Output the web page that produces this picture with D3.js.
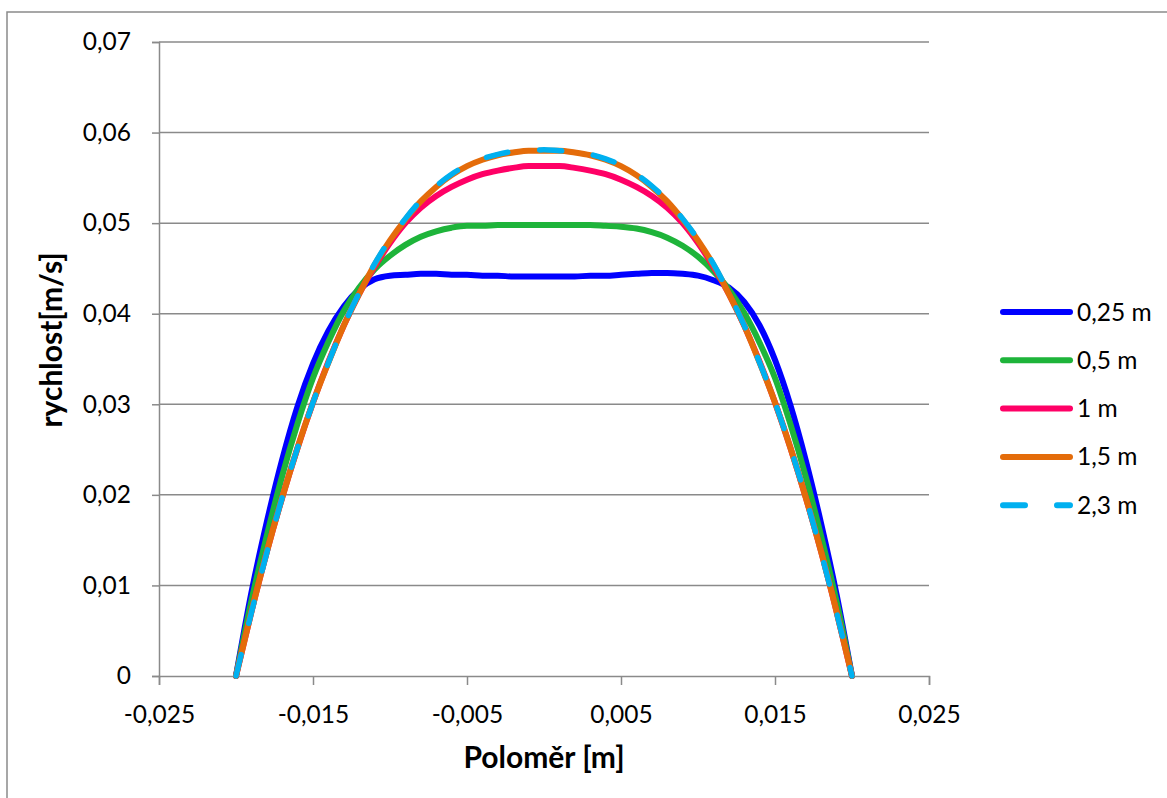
<!DOCTYPE html>
<html>
<head>
<meta charset="utf-8">
<script src="https://cdn.jsdelivr.net/npm/d3@7"></script>
<style>
	body { margin: 0; background: #fff; }
	svg { display: block; }
</style>
</head>
<body>
<div id="chart"></div>
<script>
// radius [m]
var radius = [-0.020, -0.019, -0.018, -0.017, -0.016, -0.015, -0.014, -0.013, -0.012, -0.011,
	-0.010, -0.009, -0.008, -0.007, -0.006, -0.005, -0.004, -0.003, -0.002, -0.001,
	0.000, 0.001, 0.002, 0.003, 0.004, 0.005, 0.006, 0.007, 0.008, 0.009,
	0.010, 0.011, 0.012, 0.013, 0.014, 0.015, 0.016, 0.017, 0.018, 0.019, 0.020];

// velocity [m/s] per distance from inlet
var v025 = [0, 0.0092, 0.0170, 0.0239, 0.0298, 0.0345, 0.0381, 0.0408, 0.0427, 0.0438,
	0.0442, 0.0443, 0.0444, 0.0444, 0.0443, 0.0443, 0.0442, 0.0442, 0.0441, 0.0441,
	0.0441, 0.0441, 0.0441, 0.0442, 0.0442, 0.0443, 0.0444, 0.0445, 0.0445, 0.0444,
	0.0442, 0.0437, 0.0429, 0.0413, 0.0387, 0.0349, 0.0299, 0.0238, 0.0168, 0.0090, 0];
var v05 = [0, 0.0083, 0.0155, 0.0221, 0.0279, 0.0329, 0.0369, 0.0403, 0.0429, 0.0449,
	0.0464, 0.0476, 0.0485, 0.0491, 0.0495, 0.0497, 0.0497, 0.0498, 0.0498, 0.0498,
	0.0498, 0.0498, 0.0498, 0.0498, 0.0497, 0.0496, 0.0494, 0.0490, 0.0484, 0.0475,
	0.0463, 0.0447, 0.0427, 0.0401, 0.0368, 0.0329, 0.0278, 0.0220, 0.0154, 0.0082, 0];
var v1 = [0, 0.0071, 0.0137, 0.0197, 0.0252, 0.0302, 0.0347, 0.0387, 0.0422, 0.0452,
	0.0478, 0.0500, 0.0517, 0.0530, 0.0540, 0.0548, 0.0554, 0.0558, 0.0561, 0.0563,
	0.0563, 0.0563, 0.0561, 0.0558, 0.0554, 0.0548, 0.0540, 0.0530, 0.0517, 0.0500,
	0.0478, 0.0452, 0.0422, 0.0387, 0.0347, 0.0302, 0.0252, 0.0197, 0.0137, 0.0071, 0];
var v15 = [0, 0.0071, 0.0137, 0.0197, 0.0252, 0.0302, 0.0346, 0.0387, 0.0422, 0.0454,
	0.0481, 0.0504, 0.0524, 0.0540, 0.0553, 0.0563, 0.0570, 0.0575, 0.0578, 0.0580,
	0.0580, 0.0580, 0.0578, 0.0575, 0.0570, 0.0563, 0.0553, 0.0540, 0.0524, 0.0504,
	0.0481, 0.0454, 0.0422, 0.0387, 0.0346, 0.0302, 0.0252, 0.0197, 0.0137, 0.0071, 0];
var v23 = [0, 0.0070, 0.0136, 0.0197, 0.0252, 0.0302, 0.0346, 0.0387, 0.0423, 0.0455,
	0.0482, 0.0505, 0.0525, 0.0541, 0.0554, 0.0564, 0.0571, 0.0576, 0.0579, 0.0580,
	0.0581, 0.0580, 0.0579, 0.0576, 0.0571, 0.0564, 0.0554, 0.0541, 0.0525, 0.0505,
	0.0482, 0.0455, 0.0423, 0.0387, 0.0346, 0.0302, 0.0252, 0.0197, 0.0136, 0.0070, 0];

var seriesNames = ["0,25 m", "0,5 m", "1 m", "1,5 m", "2,3 m"];
var seriesValues = [v025, v05, v1, v15, v23];

var xTicks = [-0.025, -0.015, -0.005, 0.005, 0.015, 0.025];
var xTickLabels = ["-0,025", "-0,015", "-0,005", "0,005", "0,015", "0,025"];
var yTicks = [0, 0.01, 0.02, 0.03, 0.04, 0.05, 0.06, 0.07];
var yTickLabels = ["0", "0,01", "0,02", "0,03", "0,04", "0,05", "0,06", "0,07"];

var xTitle = "Poloměr [m]";
var yTitle = "rychlost[m/s]";

// styles for each series, same order as seriesNames
var colors = ["#0000ff", "#1eb43a", "#ff0066", "#e46c0a", "#00b0f0"];
var dashes = [null, null, null, null, "22,32"];
var widths = [6, 6, 6, 6, 5.5];

var width = 1167, height = 798;
var plot = {left: 159, top: 42, right: 929, bottom: 676};
var font = "Lato, 'Open Sans', sans-serif";
var gridColor = "#8a8a8a";
var tickFont = "24.5px";
var titleFont = "30px";

var svg = d3.select("#chart").append("svg")
	.attr("width", width).attr("height", height);

// chart frame
svg.append("rect").attr("x", 7).attr("y", 12)
	.attr("width", width + 20).attr("height", height + 20)
	.attr("fill", "white").attr("stroke", gridColor).attr("stroke-width", 1.5);

var x = d3.scaleLinear().domain([-0.025, 0.025]).range([plot.left, plot.right]);
var y = d3.scaleLinear().domain([0, 0.07]).range([plot.bottom, plot.top]);

// horizontal gridlines
svg.append("g").selectAll("line").data(yTicks.slice(1)).enter().append("line")
	.attr("x1", plot.left).attr("x2", plot.right)
	.attr("y1", function(d) { return y(d); })
	.attr("y2", function(d) { return y(d); })
	.attr("stroke", gridColor).attr("stroke-width", 1.5);

// y axis
var yAxis = d3.axisLeft(y).tickValues(yTicks).tickSize(7).tickPadding(21)
	.tickFormat(function(d, i) { return yTickLabels[i]; });
var gy = svg.append("g").attr("transform", "translate(" + plot.left + ",0)").call(yAxis);

// x axis
var xAxis = d3.axisBottom(x).tickValues(xTicks).tickSize(9).tickPadding(21)
	.tickFormat(function(d, i) { return xTickLabels[i]; });
var gx = svg.append("g").attr("transform", "translate(0," + plot.bottom + ")").call(xAxis);

[gx, gy].forEach(function(g) {
	g.select(".domain").attr("stroke", gridColor).attr("stroke-width", 1.5);
	g.selectAll(".tick line").attr("stroke", gridColor).attr("stroke-width", 1.5);
	g.selectAll(".tick text").attr("font-family", font).attr("font-size", tickFont)
		.attr("fill", "#000");
});

// series lines
var line = d3.line()
	.x(function(d, i) { return x(radius[i]); })
	.y(function(d) { return y(d); })
	.curve(d3.curveMonotoneX);

seriesValues.forEach(function(vals, s) {
	svg.append("path").datum(vals)
		.attr("d", line)
		.attr("fill", "none")
		.attr("stroke", colors[s])
		.attr("stroke-width", widths[s])
		.attr("stroke-linecap", "round")
		.attr("stroke-linejoin", "round")
		.attr("stroke-dasharray", dashes[s]);
});

// axis titles
svg.append("text").text(xTitle)
	.attr("x", (plot.left + plot.right) / 2).attr("y", 768)
	.attr("text-anchor", "middle").attr("font-family", font)
	.attr("font-weight", "bold").attr("font-size", titleFont);
svg.append("text").text(yTitle)
	.attr("transform", "translate(62,340) rotate(-90)")
	.attr("text-anchor", "middle").attr("font-family", font)
	.attr("font-weight", "bold").attr("font-size", titleFont);

// legend
var legend_x = 1000, legend_y = 312, legend_step = 48.3;
var legend = svg.append("g").selectAll("g").data(seriesNames).enter().append("g")
	.attr("transform", function(d, i) {
		return "translate(" + legend_x + "," + (legend_y + legend_step * i) + ")";
	});
legend.append("line").attr("x1", 3).attr("x2", 70).attr("y1", 0).attr("y2", 0)
	.attr("stroke", function(d, i) { return colors[i]; })
	.attr("stroke-width", 6).attr("stroke-linecap", "round")
	.attr("stroke-dasharray", function(d, i) { return dashes[i]; });
legend.append("text").text(function(d) { return d; })
	.attr("x", 77).attr("y", 0).attr("dy", "0.35em")
	.attr("font-family", font).attr("font-size", tickFont);
</script>
</body>
</html>
